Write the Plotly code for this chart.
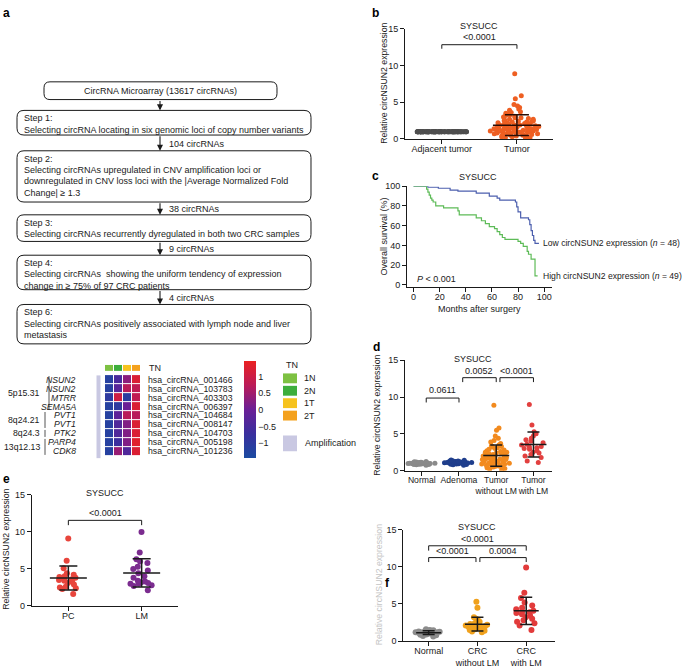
import numpy as np
import plotly.graph_objects as go

W, H = 687, 671
FONT = "Liberation Sans, Arial, Helvetica, sans-serif"
INK = "#1a1a1a"


def X(p):
    return p / W


def Y(p):
    return 1 - p / H


# ---------------------------------------------------------------- data
FLOW_TITLE = "CircRNA Microarray (13617 circRNAs)"
FLOW_STEPS = [
    ["Step 1:", "Selecting circRNA locating in six genomic loci of copy number variants"],
    ["Step 2:", "Selecting circRNAs upregulated in CNV amplification loci or",
     "downregulated in CNV loss loci with the |Average Normalized Fold",
     "Change| \u2265 1.3"],
    ["Step 3:", "Selecting circRNAs recurrently dyregulated in both two CRC samples"],
    ["Step 4:", "Selecting circRNAs  showing the uniform tendency of expression",
     "change in \u2265 75% of 97 CRC patients"],
    ["Step 6:", "Selecting circRNAs positively associated with lymph node and liver",
     "metastasis"],
]
FLOW_COUNTS = ["", "104 circRNAs", "38 circRNAs", "9 circRNAs", "4 circRNAs"]

HEAT_GENES = ["NSUN2", "NSUN2", "MTRR", "SEMA5A", "PVT1", "PVT1", "PTK2", "PARP4", "CDK8"]
HEAT_IDS = ["hsa_circRNA_001466", "hsa_circRNA_103783", "hsa_circRNA_403303",
            "hsa_circRNA_006397", "hsa_circRNA_104684", "hsa_circRNA_008147",
            "hsa_circRNA_104703", "hsa_circRNA_005198", "hsa_circRNA_101236"]
HEAT_LOCI = ["5p15.31", "8q24.21", "8q24.3", "13q12.13"]
HEAT_LOCI_ROWS = [(0, 3), (4, 5), (6, 6), (7, 8)]
HEAT_SAMPLES = ["1N", "2N", "1T", "2T"]
HEAT_VALUES = [
    [-1.2, -0.5, 0.3, 1.2],
    [-1.2, -0.3, 0.7, 0.8],
    [-1.0, 1.0, -1.1, 0.8],
    [-1.2, -1.0, 0.0, 1.2],
    [-1.2, -0.2, 0.7, 0.7],
    [-1.2, -0.4, 0.2, 1.2],
    [-1.2, -0.4, 0.2, 1.2],
    [-1.2, -0.7, 0.2, 1.3],
    [-1.2, 0.4, -0.4, 1.2],
]
TN_CODES = [0, 1, 2, 3]
TN_COLORS = ["#7DC142", "#3DAE3C", "#F6C31E", "#F4A11D"]
AMP_COLOR = "#C9C8E2"

B_CATS = ["Adjacent tumor", "Tumor"]
B_ADJ = [1.0, 1.0, 1.0, 1.0, 1.0, 1.0, 1.0, 1.0, 1.0, 1.0, 1.0, 1.0, 1.0, 1.0, 1.0, 1.0,
         1.0, 1.0, 1.0, 1.0, 1.0, 1.0, 1.0, 1.0, 1.0, 1.0, 1.0, 1.0, 1.0, 1.0, 1.0, 1.0,
         1.0, 1.0, 1.0, 1.0, 1.0, 1.0, 1.0, 1.0, 1.0, 1.0, 1.0, 1.0, 1.0, 1.0, 1.0, 1.0,
         1.0, 1.0, 1.0, 1.0, 1.0, 1.0, 1.0, 1.0, 1.0, 1.0, 1.0, 1.0, 1.0, 1.0, 1.0, 1.0,
         1.0, 1.0, 1.0, 1.0, 1.0, 1.0, 1.0, 1.0, 1.0, 1.0, 1.0, 1.0, 1.0, 1.0, 1.0, 1.0,
         1.0, 1.0, 1.0, 1.0, 1.0, 1.0, 1.0, 1.0, 1.0, 1.0, 1.0, 1.0, 1.0, 1.0, 1.0]
B_TUM = [8.9, 5.9, 5.5, 4.7, 4.5, 4.3, 4.1, 3.9, 3.7, 3.6,
         3.5, 3.4, 3.3, 3.2, 3.1, 3.0, 2.9, 2.9, 2.8, 2.7,
         2.7, 2.6, 2.5, 2.5, 2.4, 2.4, 2.3, 2.3, 2.2, 2.2,
         2.1, 2.1, 2.0, 2.0, 2.0, 1.9, 1.9, 1.9, 1.8, 1.8,
         1.8, 1.7, 1.7, 1.7, 1.6, 1.6, 1.6, 1.5, 1.5, 1.5,
         1.5, 1.4, 1.4, 1.4, 1.4, 1.3, 1.3, 1.3, 1.3, 1.2,
         1.2, 1.2, 1.2, 1.1, 1.1, 1.1, 1.1, 1.0, 1.0, 1.0,
         1.0, 0.9, 0.9, 0.9, 0.9, 0.8, 0.8, 0.8, 0.8, 0.7,
         0.7, 0.7, 0.6, 0.6, 0.6, 0.5, 0.5, 0.5, 0.4, 0.4,
         0.3, 0.3, 0.2, 0.2, 0.1]
B_P = "&lt;0.0001"

C_LOW_T = [0, 11, 19, 28, 34, 48, 58, 64, 66, 78, 79, 80, 82, 88, 89, 90, 91, 92, 93, 96]
C_LOW_S = [100, 99, 98, 96, 95, 93, 90, 88, 86, 84, 79, 74, 68, 66, 61, 55, 50, 45, 42, 42]
C_HIGH_T = [0, 10, 11, 12, 13, 14, 15, 17, 23, 34, 35, 48, 52, 55, 58, 62, 64, 66, 68, 70,
            80, 82, 84, 87, 88, 90, 93, 95]
C_HIGH_S = [100, 97, 94, 91, 88, 86, 84, 80, 78, 75, 71, 68, 65, 62, 59, 57, 54, 51, 48, 46,
            44, 42, 39, 34, 31, 26, 9, 9]
C_LOW_LABEL = "Low circNSUN2 expression (<i>n</i> = 48)"
C_HIGH_LABEL = "High circNSUN2 expression (<i>n</i> = 49)"
C_P = "<i>P</i> &lt; 0.001"

D_CATS = ["Normal", "Adenoma", "Tumor<br>without LM", "Tumor<br>with LM"]
D_NORMAL = [0.75, 0.8, 0.82, 0.85, 0.87, 0.88, 0.9, 0.9, 0.92, 0.93, 0.95, 0.95, 0.96,
            0.97, 0.98, 1.0, 1.0, 1.0, 1.01, 1.02, 1.03, 1.05, 1.05, 1.07, 1.08, 1.1,
            1.12, 1.15, 1.18, 1.22, 1.25]
D_ADENOMA = [0.75, 0.8, 0.85, 0.88, 0.9, 0.93, 0.95, 0.97, 1.0, 1.0, 1.02, 1.04, 1.05,
             1.07, 1.08, 1.1, 1.1, 1.12, 1.13, 1.15, 1.16, 1.18, 1.2, 1.2, 1.22, 1.25,
             1.28, 1.3, 1.33, 1.36, 1.4, 1.45]
D_TUMOR_WO = [8.9, 5.8, 5.5, 4.7, 4.4, 4.1, 3.9, 3.7, 3.5, 3.4, 3.3, 3.2, 3.1, 3.0, 2.9,
              2.8, 2.7, 2.6, 2.5, 2.5, 2.4, 2.4, 2.3, 2.3, 2.2, 2.2, 2.1, 2.1, 2.0, 2.0,
              1.9, 1.9, 1.9, 1.8, 1.8, 1.8, 1.7, 1.7, 1.6, 1.6, 1.6, 1.5, 1.5, 1.5, 1.4,
              1.4, 1.4, 1.3, 1.3, 1.3, 1.2, 1.2, 1.2, 1.1, 1.1, 1.0, 1.0, 1.0, 0.9, 0.9,
              0.8, 0.8, 0.7, 0.7, 0.6, 0.6, 0.5, 0.5, 0.4, 0.3, 0.2, 0.1]
D_TUMOR_W = [9.0, 6.2, 5.3, 5.0, 4.7, 4.4, 4.2, 4.0, 3.8, 3.6, 3.5, 3.3, 3.2, 3.1, 3.0,
             2.9, 2.7, 2.5, 2.4, 2.2, 2.0, 1.8, 1.3, 1.1]
D_P = ["0.0611", "0.0052", "&lt;0.0001"]

E_CATS = ["PC", "LM"]
E_PC = [9.1, 6.1, 5.1, 4.4, 4.2, 4.0, 3.9, 3.8, 3.7, 3.6, 3.5, 3.4, 3.3, 3.1, 2.9,
        2.6, 2.5, 2.4, 2.3, 1.6]
E_LM = [10.0, 7.2, 6.3, 6.0, 5.8, 5.3, 5.0, 4.8, 4.4, 4.0, 3.8, 3.4, 3.3, 3.2, 3.1,
        3.0, 3.0, 2.8, 2.7, 2.1]
E_P = "&lt;0.0001"

F_CATS = ["Normal", "CRC<br>without LM", "CRC<br>with LM"]
F_NORMAL = [0.6, 0.7, 0.8, 0.85, 0.9, 0.95, 1.0, 1.0, 1.05, 1.1, 1.1, 1.15, 1.2, 1.2,
            1.2, 1.25, 1.3, 1.3, 1.35, 1.4, 1.45, 1.5, 1.6]
F_WO = [5.3, 4.5, 3.2, 3.0, 2.8, 2.6, 2.5, 2.4, 2.3, 2.2, 2.2, 2.1, 2.1, 2.0, 2.0, 2.0,
        1.9, 1.9, 1.8, 1.8, 1.7, 1.6, 1.5, 1.4, 1.3, 1.2]
F_W = [9.9, 6.5, 5.8, 5.2, 4.8, 4.5, 4.3, 4.1, 4.0, 3.9, 3.8, 3.6, 3.4, 3.2, 3.0, 2.8,
       2.6, 2.4, 2.1, 1.5]
F_P = ["&lt;0.0001", "0.0004", "&lt;0.0001"]

COHORT = "SYSUCC"
YTITLE = "Relative circNSUN2 expression"

# ---------------------------------------------------------------- figure
fig = go.Figure()
shapes = []
anns = []


def A(text, x, y, size=9, xanchor="center", yanchor="middle", xref="paper",
      yref="paper", angle=0, bold=False, color=INK):
    if xref == "paper":
        x = X(x)
    if yref == "paper":
        y = Y(y)
    anns.append(dict(text=("<b>%s</b>" % text) if bold else text, x=x, y=y,
                     xref=xref, yref=yref, xanchor=xanchor, yanchor=yanchor,
                     showarrow=False, textangle=angle,
                     font=dict(size=size, family=FONT, color=color)))


def rrect(x0, y0, x1, y1, r=7):
    pts = lambda a, b: "%.5f,%.5f" % (X(a), Y(b))
    d = ("M" + pts(x0 + r, y0) + " L" + pts(x1 - r, y0) + " Q" + pts(x1, y0) + " " + pts(x1, y0 + r)
         + " L" + pts(x1, y1 - r) + " Q" + pts(x1, y1) + " " + pts(x1 - r, y1)
         + " L" + pts(x0 + r, y1) + " Q" + pts(x0, y1) + " " + pts(x0, y1 - r)
         + " L" + pts(x0, y0 + r) + " Q" + pts(x0, y0) + " " + pts(x0 + r, y0) + " Z")
    shapes.append(dict(type="path", path=d, xref="paper", yref="paper",
                       line=dict(color=INK, width=1)))


# ---- panel a: flowchart
box_geom = [(44, 78, 277, 96)] + [(17, t, 311, b) for t, b in
                                  [(107, 132), (148, 200), (213, 240), (254, 289), (304, 344)]]
rrect(*box_geom[0], r=6)
A(FLOW_TITLE, 160, 87)
for i, lines in enumerate(FLOW_STEPS):
    x0, t, x1, b = box_geom[i + 1]
    rrect(x0, t, x1, b)
    for j, line in enumerate(lines):
        A(line, x0 + 5, t + 8 + 11.5 * j, xanchor="left")
    prev_b = box_geom[i][3]
    anns.append(dict(x=X(160), y=Y(t), xref="paper", yref="paper", ax=0, ay=-(t - prev_b),
                     showarrow=True, arrowhead=2, arrowsize=1.1, arrowwidth=1.1,
                     arrowcolor=INK, text=""))
    if FLOW_COUNTS[i]:
        A(FLOW_COUNTS[i], 167, (prev_b + t) / 2 + 1, xanchor="left")

# ---- panel a: heatmap
hx0, hx1, hy0, hy1 = 105, 141, 375.7, 457.7
row_h = (hy1 - hy0) / len(HEAT_IDS)
fig.add_trace(go.Heatmap(
    z=HEAT_VALUES, x=HEAT_SAMPLES, y=HEAT_IDS, zmin=-1.45, zmax=1.45, xgap=1, ygap=1,
    colorscale=[[0, "#1b4ba1"], [0.25, "#3a2f9e"], [0.5, "#6b1f96"], [0.75, "#bb1b58"],
                [1, "#ea2121"]],
    colorbar=dict(x=X(244), xanchor="left", y=Y(411), yanchor="middle", len=98 / H,
                  lenmode="fraction", thickness=12, thicknessmode="pixels",
                  outlinewidth=0, xpad=0, ypad=0, ticks="",
                  tickvals=[-1, -0.5, 0, 0.5, 1],
                  ticktext=["\u22121", "\u22120.5", "0", "0.5", "1"],
                  tickfont=dict(size=9, family=FONT, color=INK)),
    xaxis="x6", yaxis="y6", hoverinfo="z"))
fig.add_trace(go.Heatmap(
    z=[TN_CODES], x=HEAT_SAMPLES, y=["TN"], zmin=0, zmax=3, xgap=1, showscale=False,
    colorscale=[[0, TN_COLORS[0]], [0.25, TN_COLORS[0]], [0.25, TN_COLORS[1]],
                [0.5, TN_COLORS[1]], [0.5, TN_COLORS[2]], [0.75, TN_COLORS[2]],
                [0.75, TN_COLORS[3]], [1, TN_COLORS[3]]],
    xaxis="x7", yaxis="y7", hoverinfo="x"))
A("TN", 147, 368.5, xanchor="left")
shapes.append(dict(type="rect", xref="paper", yref="paper", x0=X(96.5), x1=X(100.5),
                   y0=Y(460), y1=Y(376), fillcolor=AMP_COLOR, line=dict(width=0)))
for i, (g, cid) in enumerate(zip(HEAT_GENES, HEAT_IDS)):
    yc = hy0 + row_h * (i + 0.5)
    A("<i>%s</i>" % g, 78, yc, xanchor="right", size=8.7)
    A(cid, 146, yc, xanchor="left", size=8.7)
for k, (loc, (r0, r1)) in enumerate(zip(HEAT_LOCI, HEAT_LOCI_ROWS)):
    lx = 49 if k == 0 else 45
    shapes.append(dict(type="line", xref="paper", yref="paper", x0=X(lx), x1=X(lx),
                       y0=Y(hy0 + row_h * r0 + 1), y1=Y(hy0 + row_h * (r1 + 1) - 1),
                       line=dict(color="#555", width=1)))
    A(loc, 42, hy0 + row_h * (r0 + r1 + 1) / 2, xanchor="right", size=8.7)
# TN legend
A("TN", 284, 365.5, xanchor="left")
for i, (lab, col) in enumerate(zip(HEAT_SAMPLES, TN_COLORS)):
    t = 374 + 12.6 * i
    shapes.append(dict(type="rect", xref="paper", yref="paper", x0=X(283), x1=X(297),
                       y0=Y(t + 10), y1=Y(t), fillcolor=col, line=dict(width=0)))
    A(lab, 302, t + 5, xanchor="left")
shapes.append(dict(type="rect", xref="paper", yref="paper", x0=X(283), x1=X(297),
                   y0=Y(453), y1=Y(437), fillcolor=AMP_COLOR, line=dict(width=0)))
A("Amplification", 303, 445, xanchor="left")


# ---- dot plot helpers
def swarm(vals, pos, color, width, size, ax):
    fig.add_trace(go.Box(y=vals, x0=pos, width=width, boxpoints="all", jitter=1,
                         pointpos=0, marker=dict(color=color, size=size),
                         fillcolor="rgba(0,0,0,0)",
                         line=dict(color="rgba(0,0,0,0)", width=0), whiskerwidth=0,
                         xaxis="x" + ax, yaxis="y" + ax, hoverinfo="y"))


def meansd(vals, pos, lw, cap, ax, color=INK):
    m = float(np.mean(vals))
    s = float(np.std(vals, ddof=1))
    fig.add_trace(go.Scatter(x=[pos], y=[m], mode="markers",
                             marker=dict(symbol="line-ew", size=lw / 1.4,
                                         line=dict(width=1.5, color=color)),
                             error_y=dict(type="data", array=[s], color=color,
                                          thickness=1.5, width=cap),
                             xaxis="x" + ax, yaxis="y" + ax, hoverinfo="y"))


def bracket(xa, xb, y, drop, ax):
    shapes.append(dict(type="path", xref="x" + ax, yref="y" + ax,
                       path="M%f,%f L%f,%f L%f,%f L%f,%f" % (xa, y - drop, xa, y, xb, y, xb, y - drop),
                       line=dict(color=INK, width=1)))


# ---- panel b
swarm(B_ADJ, 0, "#4e4e4e", 0.66, 5, "")
swarm(B_TUM, 1, "#EE5F22", 0.76, 5, "")
meansd(B_TUM, 1, 48, 12, "", "#2a0d05")
bracket(0, 1, 12.85, 0.55, "")
A(COHORT, 479, 21)
A(B_P, 0.5, 13.9, xref="x", yref="y")

# ---- panel c
fig.add_trace(go.Scatter(x=C_LOW_T, y=C_LOW_S, mode="lines", line=dict(shape="hv", color="#4C5FAE", width=1.2),
                         xaxis="x2", yaxis="y2"))
fig.add_trace(go.Scatter(x=C_HIGH_T, y=C_HIGH_S, mode="lines", line=dict(shape="hv", color="#5DBB57", width=1.2),
                         xaxis="x2", yaxis="y2"))
A(C_LOW_LABEL, C_LOW_T[-1] + 1.2, C_LOW_S[-1], xref="x2", yref="y2", xanchor="left", size=8.6)
A(C_HIGH_LABEL, C_HIGH_T[-1] + 2.2, C_HIGH_S[-1], xref="x2", yref="y2", xanchor="left", size=8.6)
A(C_P, 1.5, 6, xref="x2", yref="y2", xanchor="left")
A(COHORT, 478, 175)
A("Months after surgery", 479, 309)
A("Overall survival (%)", 384, 235, angle=-90)

# ---- panel d
d_cols = ["#8A8A8A", "#1F3E8C", "#F28A1E", "#E2403F"]
d_w = [0.8, 0.8, 0.92, 0.68]
for i, (vals, col, w) in enumerate(zip([D_NORMAL, D_ADENOMA, D_TUMOR_WO, D_TUMOR_W], d_cols, d_w)):
    swarm(vals, i, col, w, 5, "3")
for i, vals in enumerate([D_TUMOR_WO, D_TUMOR_W]):
    meansd(vals, i + 2, 26, 6, "3")
bracket(0.12, 1.0, 9.87, 0.6, "3")
bracket(1.1, 2.0, 12.64, 0.6, "3")
bracket(2.1, 3.0, 12.64, 0.6, "3")
A(D_P[0], 0.55, 10.9, xref="x3", yref="y3")
A(D_P[1], 1.55, 13.6, xref="x3", yref="y3")
A(D_P[2], 2.55, 13.6, xref="x3", yref="y3")
A(COHORT, 473, 359)

# ---- panel e
for i, (vals, col) in enumerate(zip([E_PC, E_LM], ["#E8453C", "#7B2C8F"])):
    swarm(vals, i, col, 0.36, 6, "4")
    meansd(vals, i, 37, 9, "4")
bracket(0, 1, 11.56, 0.65, "4")
A(E_P, 0.5, 12.5, xref="x4", yref="y4")
A(COHORT, 105, 495)

# ---- panel f
for i, (vals, col) in enumerate(zip([F_NORMAL, F_WO, F_W], ["#8C8C8C", "#F0A11C", "#E23B3B"])):
    swarm(vals, i, col, 0.55, 6, "5")
    meansd(vals, i, 25, 6, "5")
bracket(0, 2, 12.84, 0.65, "5")
bracket(0, 0.97, 11.25, 0.6, "5")
bracket(1.05, 2, 11.25, 0.6, "5")
A(F_P[2], 1.0, 13.7, xref="x5", yref="y5")
A(F_P[0], 0.48, 12.1, xref="x5", yref="y5")
A(F_P[1], 1.52, 12.1, xref="x5", yref="y5")
A(COHORT, 477, 530)

# y titles
A(YTITLE, 384, 80, angle=-90, size=8.7)
A(YTITLE, 377, 417, angle=-90, size=8.7)
A(YTITLE, 6, 553, angle=-90, size=8.7)
A(YTITLE, 379, 589, angle=-90, size=8.7, color="#c4c4c4")

# panel letters
for letter, (px, py) in zip("abcdef", [(6, 8), (375, 8), (375, 174), (376, 347), (6, 481), (387, 587)]):
    A(letter, px, py, size=12, bold=True, color="#000")


# ---- axes
def yaxis(top, bottom, rng, ticks, anchor):
    return dict(domain=[Y(bottom), Y(top)], range=rng, anchor=anchor, tickvals=ticks,
                showline=True, linecolor=INK, linewidth=1, ticks="outside", ticklen=4,
                tickwidth=1, tickcolor=INK, showgrid=False, zeroline=False,
                tickfont=dict(size=9, family=FONT, color=INK))


def xaxis(left, right, rng, ticks, texts, anchor, size=9):
    return dict(domain=[X(left), X(right)], range=rng, anchor=anchor, tickvals=ticks,
                ticktext=texts, showline=True, linecolor=INK, linewidth=1, ticks="outside",
                ticklen=4, tickwidth=1, tickcolor=INK, showgrid=False, zeroline=False,
                tickangle=0, ticklabelstandoff=-3,
                tickfont=dict(size=size, family=FONT, color=INK))


hidden = dict(visible=False, showgrid=False, zeroline=False)
fig.update_layout(
    width=W, height=H, margin=dict(l=0, r=0, t=0, b=0, pad=0),
    paper_bgcolor="white", plot_bgcolor="white", showlegend=False,
    font=dict(family=FONT, size=9, color=INK),
    xaxis=xaxis(405, 553, [-0.49, 1.48], [0, 1], B_CATS, "y"),
    yaxis=yaxis(24.3, 136, [0, 15], [0, 5, 10, 15], "x"),
    xaxis2=xaxis(407, 552, [-5, 106], [0, 20, 40, 60, 80, 100],
                 ["0", "20", "40", "60", "80", "100"], "y2"),
    yaxis2=yaxis(184, 286, [-2, 100], [0, 20, 40, 60, 80, 100], "x2"),
    xaxis3=xaxis(405, 551.7, [-0.45, 3.49], [0, 1, 2, 3], D_CATS, "y3", size=8.6),
    yaxis3=yaxis(360.7, 472.7, [0, 15], [0, 5, 10, 15], "x3"),
    xaxis4=xaxis(31.7, 178.3, [-0.5, 1.5], [0, 1], E_CATS, "y4"),
    yaxis4=yaxis(497.3, 610, [0, 15], [0, 5, 10, 15], "x4"),
    xaxis5=xaxis(403.3, 555, [-0.52, 2.59], [0, 1, 2], F_CATS, "y5"),
    yaxis5=yaxis(532.7, 645.7, [0, 15], [0, 5, 10, 15], "x5"),
    xaxis6=dict(domain=[X(hx0), X(hx1)], anchor="y6", **hidden),
    yaxis6=dict(domain=[Y(hy1), Y(hy0)], anchor="x6", autorange="reversed", **hidden),
    xaxis7=dict(domain=[X(hx0), X(hx1)], anchor="y7", **hidden),
    yaxis7=dict(domain=[Y(371.7), Y(365.3)], anchor="x7", **hidden),
    shapes=shapes, annotations=anns,
)

fig.write_html("out.html", config={"displayModeBar": False},
               post_script="document.body.style.margin='0px';")
